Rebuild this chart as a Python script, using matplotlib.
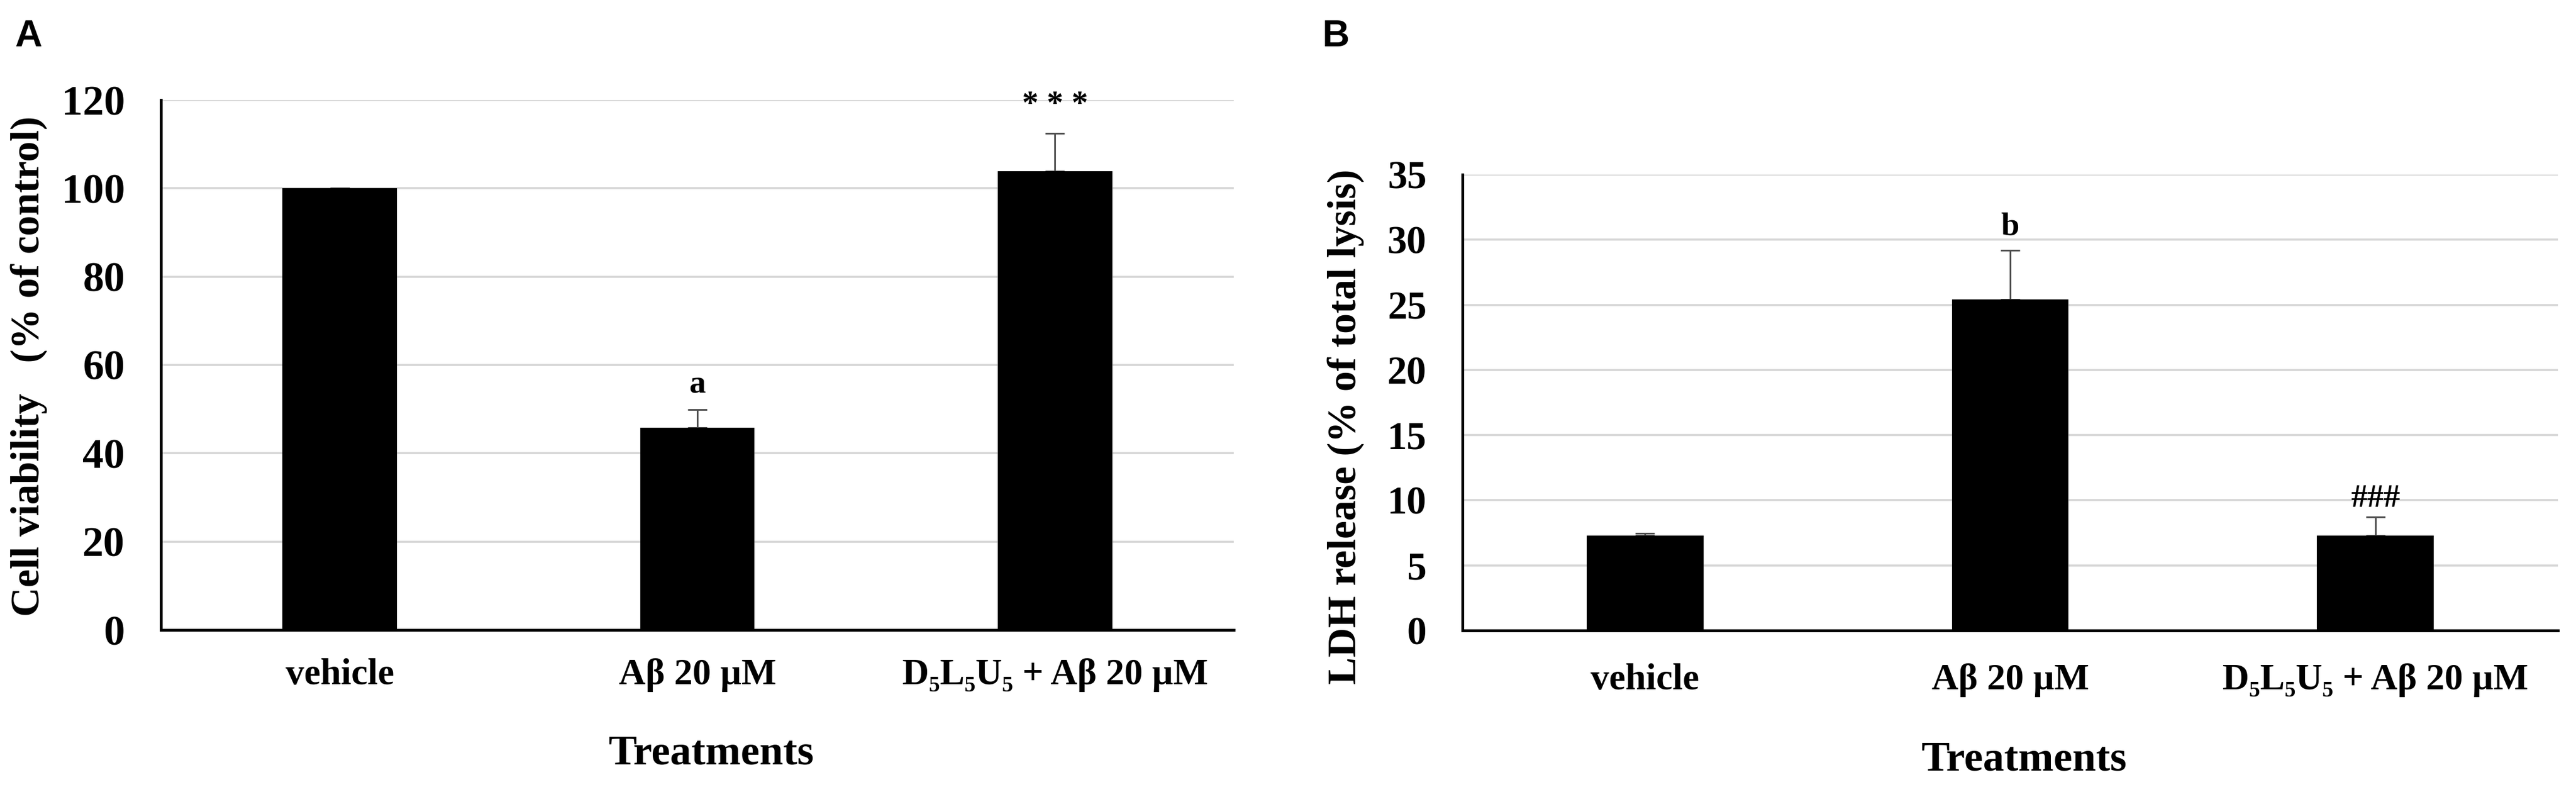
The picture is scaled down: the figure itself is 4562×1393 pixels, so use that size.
import numpy as np
import matplotlib.pyplot as plt

# data
treatments = ['vehicle', 'Aβ 20 µM', 'D₅L₅U₅ + Aβ 20 µM']
viability = [100, 45.8, 103.9]
viability_err = [0, 4.1, 8.6]
ldh = [7.3, 25.4, 7.3]
ldh_err = [0.15, 3.8, 1.4]
viability_marks = ['', 'a', '* * *']
viability_mark_y = [0, 53.7, 117.0]
ldh_marks = ['', 'b', '###']
ldh_mark_y = [0, 30.4, 9.5]

serif = ['Liberation Serif', 'DejaVu Serif']
W, H = 4562, 1393

fig = plt.figure(figsize=(W / 100, H / 100), dpi=100)
axA = fig.add_axes([285 / W, 1 - 1115 / H, 1900 / W, 938 / H])
axB = fig.add_axes([2590 / W, 1 - 1116 / H, 1940 / W, 807 / H])


def draw_panel(ax, vals, errs, marks, mark_y, ymax, yticks, tick_size, xpad,
               ylabel, ylab_xy, xlab_y):
    x = np.arange(len(treatments))
    ax.errorbar(x, vals, yerr=[np.zeros(len(vals)), errs], fmt='none',
                ecolor='#505050', elinewidth=2.2, capsize=12, capthick=2.2, zorder=1)
    ax.bar(x, vals, width=0.32, color='black', zorder=2)
    ax.set_xlim(-0.5, 2.5)
    ax.set_ylim(0, ymax)
    ax.set_yticks(yticks)
    ax.set_xticks(x)
    ax.set_xticklabels(treatments, fontsize=47, fontweight='bold', family=serif)
    for lab in ax.get_yticklabels():
        lab.set_fontsize(tick_size)
        lab.set_fontweight('bold')
        lab.set_family(serif)
    ax.tick_params(axis='both', length=0)
    ax.tick_params(axis='y', pad=46)
    ax.tick_params(axis='x', pad=xpad)
    ax.set_axisbelow(True)
    ax.yaxis.grid(True, color='#d6d6d6', linewidth=2.6)
    for s in ['top', 'right']:
        ax.spines[s].set_visible(False)
    for s in ['left', 'bottom']:
        ax.spines[s].set_linewidth(3.6)
        ax.spines[s].set_color('black')
    for xi, m, my in zip(x, marks, mark_y):
        if m:
            ax.text(xi, my, m, ha='center', va='baseline', fontsize=42,
                    fontweight='bold', family=serif, zorder=3)
    ax.text(0.513, xlab_y, 'Treatments', transform=ax.transAxes, ha='center',
            va='center', fontsize=54, fontweight='bold', family=serif)
    fig.text(ylab_xy[0] / W, 1 - ylab_xy[1] / H, ylabel, rotation=90, ha='center',
             va='center', fontsize=52, fontweight='bold', family=serif)


draw_panel(axA, viability, viability_err, viability_marks, viability_mark_y, 120,
           np.arange(0, 121, 20), 54, 36, 'Cell viability   (% of control)',
           (51, 648), -0.2345)
draw_panel(axB, ldh, ldh_err, ldh_marks, ldh_mark_y, 35,
           np.arange(0, 36, 5), 50, 42, 'LDH release (% of total lysis)',
           (2383, 755), -0.284)

fig.text(26 / W, 1 - 34 / H, 'A', ha='left', va='top', fontsize=48,
         fontweight='bold', family='Liberation Sans')
fig.text(2342 / W, 1 - 34 / H, 'B', ha='left', va='top', fontsize=48,
         fontweight='bold', family='Liberation Sans')

fig.savefig('out.png', dpi=100, facecolor='white')
